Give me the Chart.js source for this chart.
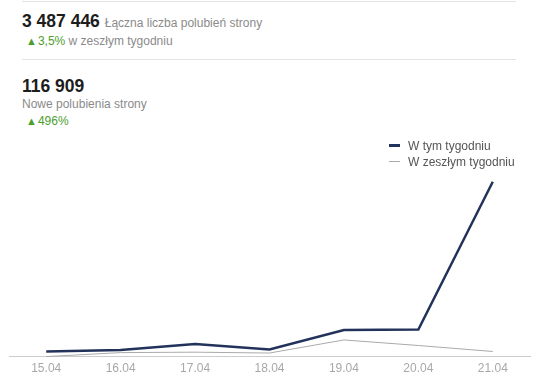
<!DOCTYPE html>
<html>
<head>
<meta charset="utf-8">
<script src="https://cdn.jsdelivr.net/npm/chart.js@4/dist/chart.umd.min.js"></script>
<style>
  body { margin: 0; background: #fff; font-family: "Liberation Sans", Arial, sans-serif; }
  #wrap { position: relative; width: 539px; height: 386px; overflow: hidden; }
  .rule { position: absolute; left: 22px; width: 494px; height: 1px; background: #e3e3e3; }
  .big { position: absolute; left: 22px; font-weight: bold; font-size: 17.5px; color: #1d1d1d; }
  .sub { font-weight: normal; font-size: 12px; color: #8a8a8a; }
  .txt { position: absolute; left: 22px; font-size: 12px; color: #8a8a8a; }
  .up { color: #4c9e2e; }
  .tri { font-size: 11px; color: #4c9e2e; margin-right: 1px; }
  #chartBox { position: absolute; left: 0; top: 130px; width: 539px; height: 256px; }
  #legend { position: absolute; left: 389px; top: 138px; font-size: 12px; color: #555; }
  .lg { height: 16px; line-height: 16px; white-space: nowrap; }
  .sw { display: inline-block; width: 11px; vertical-align: middle; margin-right: 8px; position: relative; top: -1px; }
</style>
</head>
<body>
<div id="wrap">
  <div class="rule" style="top:1px"></div>
  <div class="big" style="top:11px">3 487 446 <span class="sub">Łączna liczba polubień strony</span></div>
  <div class="txt" style="top:34px; left:26px"><span class="tri">▲</span><span class="up">3,5%</span> w zeszłym tygodniu</div>
  <div class="rule" style="top:59px"></div>
  <div class="big" style="top:76px">116 909</div>
  <div class="txt" style="top:97px">Nowe polubienia strony</div>
  <div class="txt" style="top:114px; left:26px"><span class="tri">▲</span><span class="up">496%</span></div>
  <div id="chartBox"><canvas id="c" width="539" height="256"></canvas></div>
  <div id="legend"></div>
</div>
<script>
const days = ["15.04", "16.04", "17.04", "18.04", "19.04", "20.04", "21.04"];
const thisWeek = [2260, 2950, 5650, 3200, 12000, 12200, 78700];
const lastWeek = [0, 1800, 2000, 1600, 7500, 5000, 2300];
const seriesNames = ["W tym tygodniu", "W zeszłym tygodniu"];
const seriesColors = ["#22325a", "#aaaaaa"];
const seriesWidths = [2.5, 1];

const ctx = document.getElementById("c");
const chart = new Chart(ctx, {
  type: "line",
  data: {
    labels: days,
    datasets: [
      {
        label: seriesNames[0],
        data: thisWeek,
        borderColor: seriesColors[0],
        borderWidth: seriesWidths[0],
        pointRadius: 0,
        tension: 0,
        fill: false,
        clip: false
      },
      {
        label: seriesNames[1],
        data: lastWeek,
        borderColor: seriesColors[1],
        borderWidth: seriesWidths[1],
        pointRadius: 0,
        tension: 0,
        fill: false,
        clip: false
      }
    ]
  },
  options: {
    responsive: false,
    animation: false,
    layout: { padding: { left: 9, right: 9, top: 40, bottom: 5 } },
    plugins: { legend: { display: false }, tooltip: { enabled: false } },
    scales: {
      x: {
        offset: true,
        grid: { display: false, drawTicks: false },
        border: { color: "#cccccc", width: 1 },
        ticks: { color: "#a8a8a8", font: { family: "Liberation Sans", size: 12 }, padding: 5, maxRotation: 0 }
      },
      y: {
        display: false,
        min: 0,
        max: 84000
      }
    }
  }
});

// legend
const lg = document.getElementById("legend");
seriesNames.forEach((name, i) => {
  const row = document.createElement("div");
  row.className = "lg";
  const sw = document.createElement("span");
  sw.className = "sw";
  sw.style.height = (i === 0 ? 3 : 1) + "px";
  sw.style.background = seriesColors[i];
  row.appendChild(sw);
  row.appendChild(document.createTextNode(name));
  lg.appendChild(row);
});
</script>
</body>
</html>
